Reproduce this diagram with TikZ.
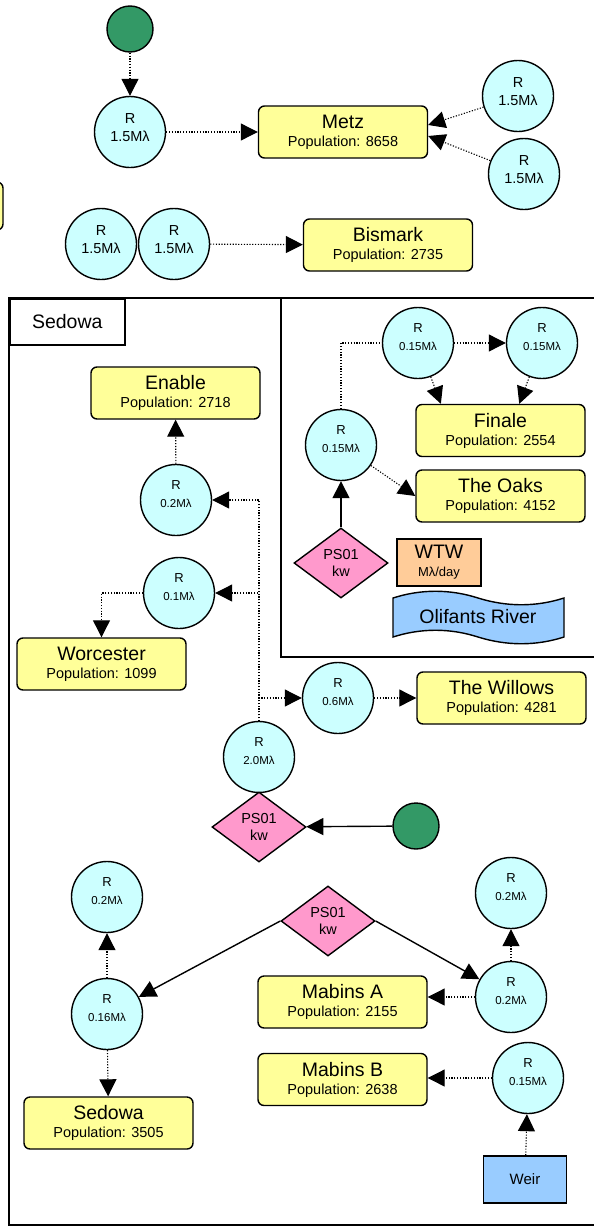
\documentclass[tikz,border=0pt]{standalone}
\usepackage{fontspec}
\setmainfont{Liberation Sans}
\usetikzlibrary{shapes.geometric,arrows.meta,calc}

\definecolor{townfill}{HTML}{FFFF99}
\definecolor{resfill}{HTML}{CCFFFF}
\definecolor{srcfill}{HTML}{339966}
\definecolor{pumpfill}{HTML}{FF99CC}
\definecolor{plantfill}{HTML}{FFCC99}
\definecolor{waterfill}{HTML}{99CCFF}

% town box: name on top, population below
\newcommand\townlabel[2]{{\fontsize{19.5}{18}\selectfont #1}\\Population: #2}
% large reservoir label
\newcommand\bigres[1]{R\\#1\rule[-9pt]{0pt}{9pt}}
% small reservoir label
\newcommand\smallres[1]{{\fontsize{13}{16.5}\selectfont R}\\{\fontsize{11.5}{16.5}\selectfont #1}\rule[-11pt]{0pt}{11pt}}

\begin{document}
\begin{tikzpicture}[x=1pt,y=-1pt,
  town/.style={draw, fill=townfill, rounded corners=6pt, line width=1.4pt,
    minimum width=169pt, minimum height=52pt, inner sep=0pt, align=center,
    font=\fontsize{14.5}{18}\selectfont},
  res/.style={circle, draw, fill=resfill, line width=1.4pt, minimum size=71pt,
    inner sep=0pt, align=center, font=\fontsize{14.5}{18}\selectfont},
  source/.style={circle, draw, fill=srcfill, line width=1.4pt, minimum size=46pt, inner sep=0pt},
  pump/.style={diamond, draw, fill=pumpfill, line width=1.4pt, minimum width=94pt,
    minimum height=70pt, inner sep=0pt, align=center, font=\fontsize{14.5}{17}\selectfont},
  plainbox/.style={rectangle, draw, line width=1.4pt, inner sep=0pt, align=center},
  tip/.style={-{Triangle[length=17pt,width=17pt]}},
  flow/.style={line width=1.1pt, dash pattern=on 1.2pt off 1.6pt, tip},
  feed/.style={line width=1.4pt, tip},
  link/.style={line width=1.1pt, dash pattern=on 1.2pt off 1.6pt},
  frame/.style={line width=1.5pt}
]
\useasboundingbox (0,0) rectangle (594,1226);

% ---------- upper group ----------
\node[source] (g1) at (130,29) {};
\node[res] (rtop) at (130,132) {\bigres{1.5Mλ}};
\node[town] (metz) at (343,132) {\townlabel{Metz}{8658}};
\node[res] (rm1) at (518,96) {\bigres{1.5Mλ}};
\node[res] (rm2) at (524,174) {\bigres{1.5Mλ}};
\draw[flow] (g1) -- (rtop);
\draw[flow] (rtop) -- (metz);
\draw[flow] (rm1) -- ([yshift=7pt]metz.east);
\draw[flow] (rm2) -- ([yshift=-4pt]metz.east);

% town box running off the left edge
\draw[fill=townfill, rounded corners=6pt, line width=1.4pt] (-60,182) rectangle (3,230);

\node[res] (rb1) at (101,244) {\bigres{1.5Mλ}};
\node[res] (rb2) at (174,244) {\bigres{1.5Mλ}};
\node[town] (bismark) at (388,245) {\townlabel{Bismark}{2735}};
\draw[flow] (rb2) -- (bismark);

% ---------- Sedowa area ----------
\draw[frame] (9,298) rectangle (650,1225);
\node[plainbox, line width=1.5pt, minimum width=115pt, minimum height=46pt,
  anchor=north west, font=\fontsize{19.5}{20}\selectfont] (sedlabel) at (9,298) {Sedowa};
\draw[frame] (281,298) rectangle (650,657);

% treatment works corner
\node[res] (r15a) at (418,343) {\smallres{0.15Mλ}};
\node[res] (r15b) at (542,343) {\smallres{0.15Mλ}};
\node[res] (r15c) at (341,445) {\smallres{0.15Mλ}};
\node[town] (finale) at (500.5,430.5) {\townlabel{Finale}{2554}};
\node[town] (oaks) at (500.5,496) {\townlabel{The Oaks}{4152}};
\node[pump] (ps1) at (341,563) {PS01\\kw};
\node[plainbox, fill=plantfill, minimum width=84pt, minimum height=47pt,
  font=\fontsize{13}{18}\selectfont] (wtw) at (439,562.5)
  {{\fontsize{19.5}{18}\selectfont WTW}\\Mλ/day};
\draw[fill=waterfill, line width=1.4pt]
  (393,598) .. controls (421,589) and (450,589) .. (478,598)
  .. controls (507,607) and (536,607) .. (564,598) -- (564,637)
  .. controls (536,646) and (507,646) .. (478,637)
  .. controls (450,628) and (421,628) .. (393,637) -- cycle;
\node[font=\fontsize{19.5}{20}\selectfont] (river) at (478,617) {Olifants River};

\draw[feed] (ps1) -- (r15c);
\draw[link] (r15c.north) |- (r15a.west);
\draw[flow] (r15a) -- (r15b);
\draw[flow] (r15a) -- ($(finale.north west)!0.15!(finale.north east)$);
\draw[flow] (r15b) -- ($(finale.north west)!0.61!(finale.north east)$);
\draw[flow] (r15c) -- (oaks.west);

% main distribution
\node[town] (enable) at (175.5,393) {\townlabel{Enable}{2718}};
\node[res] (r02) at (176,500) {\smallres{0.2Mλ}};
\node[res] (r01) at (179,593) {\smallres{0.1Mλ}};
\node[town] (worcester) at (101.5,664) {\townlabel{Worcester}{1099}};
\node[res] (r06) at (338,698) {\smallres{0.6Mλ}};
\node[town] (willows) at (501.5,698) {\townlabel{The Willows}{4281}};
\node[res] (r20) at (259,757) {\smallres{2.0Mλ}};
\node[pump] (ps2) at (259,827) {PS01\\kw};
\node[source] (g2) at (416,826) {};

\draw[flow] (r20.north) |- (r02);
\draw[flow] (r20.north) |- (r01);
\draw[flow] (r20.north) |- (r06);
\draw[flow] (r02) -- (enable);
\draw[flow] (r01.west) -| (worcester);
\draw[flow] (r06) -- (willows);
\draw[feed] (g2) -- (ps2);

% southern branch
\node[pump] (ps3) at (328,921) {PS01\\kw};
\node[res] (r02a) at (107,897) {\smallres{0.2Mλ}};
\node[res] (r016) at (107,1014) {\smallres{0.16Mλ}};
\node[town] (sedowa) at (108.5,1123) {\townlabel{Sedowa}{3505}};
\node[res] (r02c) at (511,893) {\smallres{0.2Mλ}};
\node[res] (r02b) at (511,997) {\smallres{0.2Mλ}};
\node[town] (mabinsa) at (342.5,1002) {\townlabel{Mabins A}{2155}};
\node[town] (mabinsb) at (342.5,1079.5) {\townlabel{Mabins B}{2638}};
\node[res] (r015) at (528,1078) {\smallres{0.15Mλ}};
\node[plainbox, fill=waterfill, minimum width=83pt, minimum height=47pt,
  font=\fontsize{15}{18}\selectfont] (weir) at (525,1179.5) {Weir};

\draw[feed] (ps3.west) -- (r016);
\draw[feed] (ps3.east) -- (r02b);
\draw[flow] (r016) -- (r02a);
\draw[flow] (r016) -- (sedowa);
\draw[flow] (r02b) -- (r02c);
\draw[flow] (r02b.west) -- (r02b.west -| mabinsa.east);
\draw[flow] (r015) -- (r015 -| mabinsb.east);
\draw[flow] (weir) -- (r015);
\end{tikzpicture}
\end{document}
